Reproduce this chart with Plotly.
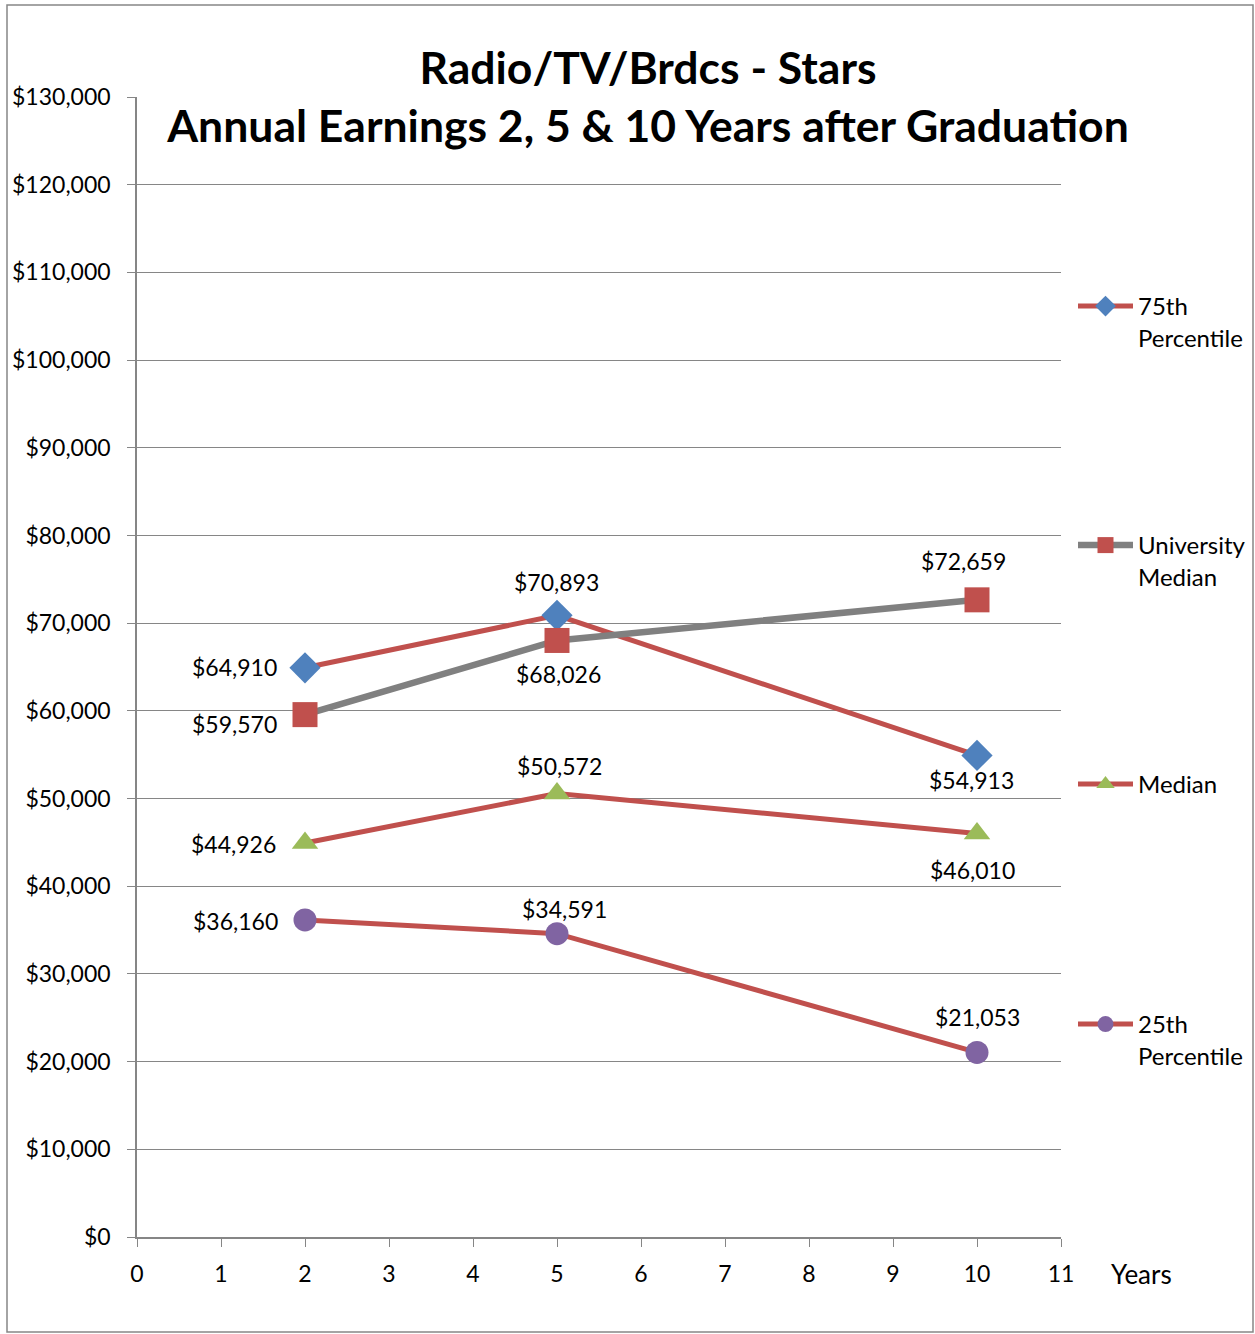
import plotly.graph_objects as go

years = [2, 5, 10]
p75 = [64910, 70893, 54913]
univ_median = [59570, 68026, 72659]
median = [44926, 50572, 46010]
p25 = [36160, 34591, 21053]

series_names = ["75th<br>Percentile", "University<br>Median", "Median", "25th<br>Percentile"]
y_ticks = list(range(0, 130001, 10000))
y_ticktext = [f"${v:,}" for v in y_ticks]
x_ticks = list(range(0, 12))

FONT = "Lato"
RED = "#C0504D"
GRAY = "#808080"

fig = go.Figure()

def add(name, ys, line_color, line_w, m_symbol, m_color, m_size, offsets, legend):
    fig.add_trace(go.Scatter(
        x=years, y=ys, name=name, mode="lines+markers",
        line=dict(color=line_color, width=line_w),
        marker=dict(symbol=m_symbol, color=m_color, size=m_size),
        legend=legend,
    ))
    for xv, yv, (dx, dy) in zip(years, ys, offsets):
        fig.add_annotation(x=xv, y=yv, text=f"${yv:,}", showarrow=False,
                           xanchor="center", yanchor="middle",
                           xshift=dx, yshift=-dy,
                           font=dict(family=FONT, size=23, color="black"))

add(series_names[0], p75, RED, 5, "diamond", "#4F81BD", 24,
    [(-71, -1), (-1, -33), (-6, 25)], "legend")
add(series_names[1], univ_median, GRAY, 6.5, "square", RED, 25,
    [(-71, 9), (1, 34), (-14, -39)], "legend2")
add(series_names[2], median, RED, 5, "triangle-up", "#9BBB59", 23,
    [(-72, 1), (2, -28), (-5, 36)], "legend3")
add(series_names[3], p25, RED, 5, "circle", "#8064A2", 23,
    [(-70, 1), (7, -25), (0, -35)], "legend4")

def leg(yc):
    return dict(x=(1073 - 137) / 924, y=(1237 - yc) / 1140, yanchor="top", xanchor="left",
                font=dict(family=FONT, size=24, color="black"),
                itemwidth=55, valign="top", bgcolor="rgba(0,0,0,0)",
                tracegroupgap=0, itemclick=False)

fig.update_layout(
    width=1255, height=1334,
    margin=dict(l=137, r=194, t=97, b=97, autoexpand=False),
    paper_bgcolor="white", plot_bgcolor="white",
    showlegend=True,
    legend=leg(284), legend2=leg(523), legend3=leg(762), legend4=leg(1002),
    xaxis=dict(range=[0, 11], tickvals=x_ticks, showgrid=False, zeroline=False,
               showline=True, linecolor="#868686", linewidth=1.5,
               ticks="outside", ticklen=8, tickcolor="#868686",
               ticklabelstandoff=8,
               tickfont=dict(family=FONT, size=23, color="black")),
    yaxis=dict(range=[0, 130000], tickvals=y_ticks, ticktext=y_ticktext,
               showgrid=True, gridcolor="#868686", gridwidth=1, zeroline=False,
               showline=True, linecolor="#868686", linewidth=1.5,
               ticks="outside", ticklen=8, tickcolor="#868686",
               ticklabelstandoff=12,
               tickfont=dict(family=FONT, size=23, color="black")),
    title=dict(text="<b>Radio/TV/Brdcs - Stars<br>Annual Earnings 2, 5 &amp; 10 Years after Graduation</b>",
               x=648 / 1255, xanchor="center", y=1 - 84 / 1334, yanchor="top",
               font=dict(family=FONT, size=44.5, color="black")),
)

fig.add_annotation(text="Years", xref="paper", yref="paper",
                   x=(1141 - 137) / 924, y=(1237 - 1274) / 1140,
                   xanchor="center", yanchor="middle", showarrow=False,
                   font=dict(family=FONT, size=26, color="black"))

fig.add_shape(type="rect", xref="paper", yref="paper",
              x0=(7 - 137) / 924, x1=(1253 - 137) / 924,
              y0=(1237 - 1332) / 1140, y1=(1237 - 5) / 1140,
              line=dict(color="#868686", width=1.5), fillcolor="rgba(0,0,0,0)", layer="below")

fig.write_html("out.html", config={"displayModeBar": False},
               post_script="document.body.style.margin='0px';")
